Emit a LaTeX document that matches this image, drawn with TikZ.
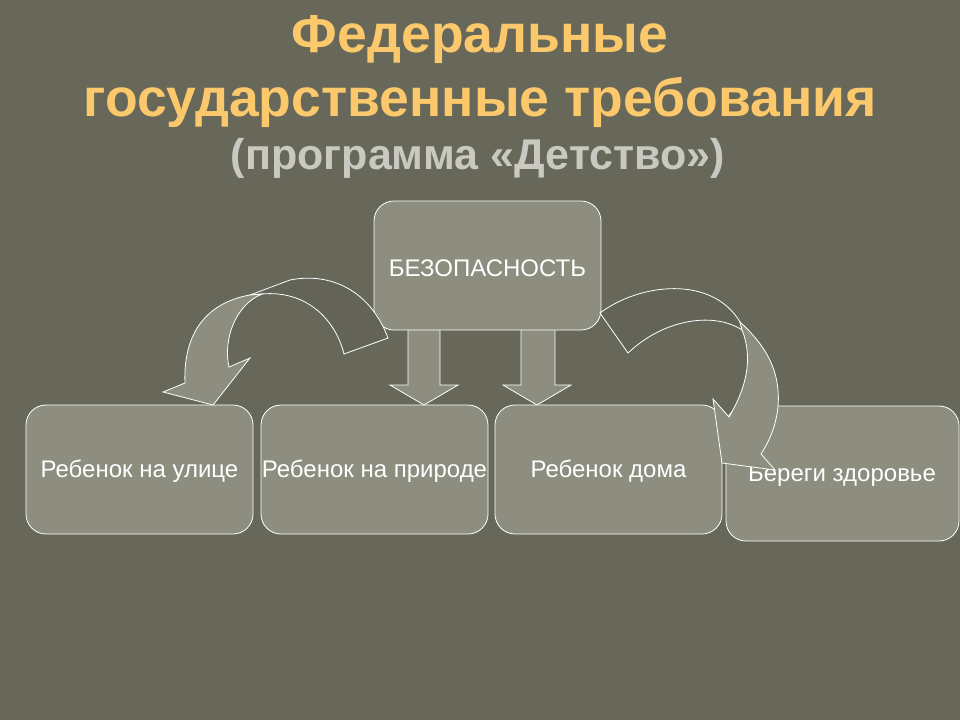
\documentclass[tikz,border=0pt]{standalone}
\usepackage{fontspec}
\setmainfont{Liberation Sans}
\definecolor{bg}{HTML}{67685A}
\definecolor{boxc}{HTML}{8D8E80}
\definecolor{darkc}{HTML}{646358}
\definecolor{titc}{HTML}{FBC96B}
\definecolor{subc}{HTML}{C9C9C1}
\tikzset{
 bx/.style={draw=white, fill=boxc, rounded corners=20pt, line width=0.8pt},
 lbl/.style={text=white, font=\fontsize{24}{28}\selectfont},
 arr/.style={draw=white, line width=0.8pt, line join=miter},
}
\begin{document}
\begin{tikzpicture}[x=1pt,y=-1pt]
\fill[bg] (0,0) rectangle (960,720);
\useasboundingbox (0,0) rectangle (960,720);
\node[text=titc, font=\bfseries\fontsize{53.5}{58}\selectfont] (t1) at (480,40) {Федеральные};
\node[text=titc, font=\bfseries\fontsize{53.5}{58}\selectfont] (t2) at (480,102) {государственные требования};
\node[text=subc, font=\bfseries\fontsize{43}{47}\selectfont] (t3) at (478,158) {(программа «Детство»)};
% down arrows
\draw[arr, fill=boxc] (408,330) -- (408,385) -- (390,385) -- (424,405) -- (458,385) -- (440,385) -- (440,330);
\draw[arr, fill=boxc] (521,330) -- (521,385) -- (503,385) -- (537,405) -- (571,385) -- (555,385) -- (555,330);
% boxes
\draw[bx] (374,201) rectangle (601,330);
\node[lbl] (b0) at (487.5,268) {БЕЗОПАСНОСТЬ};
\draw[bx] (26,405) rectangle (253,534);
\node[lbl] (b1) at (139.5,471) {Ребенок на улице};
\draw[bx] (261,405) rectangle (488,534);
\node[lbl] (b2) at (374.5,471) {Ребенок на природе};
\draw[bx] (495,405) rectangle (722,534);
\node[lbl] (b3) at (608.5,471) {Ребенок дома};
\draw[bx] (726,406) rectangle (959,541);
\node[lbl] (b4) at (842,476) {Береги здоровье};
% left curved arrow
\draw[arr, fill=darkc] (388,338) .. controls (370,290) and (330,272) .. (290,280) -- (250,295) -- (262,294) .. controls (305,290) and (335,318) .. (344,354) -- cycle;
\draw[arr, fill=boxc] (262,294) .. controls (235,305) and (223,340) .. (229,367) -- (250,358) -- (213,405) -- (163,392) -- (185,383) .. controls (183,335) and (205,303) .. (250,295) -- cycle;
% right curved arrow
\draw[arr, fill=darkc] (600,313) .. controls (640,283) and (712,275) .. (740,322) -- (742,330) .. controls (715,312) and (665,318) .. (628,353) -- cycle;
\draw[arr, fill=boxc] (740,322) .. controls (765,345) and (781,370) .. (778,407) .. controls (776,425) and (770,440) .. (761,454) -- (775,470) -- (722,463) -- (713,399) -- (729,417) .. controls (745,390) and (754,360) .. (742,330) -- cycle;
\end{tikzpicture}
\end{document}
